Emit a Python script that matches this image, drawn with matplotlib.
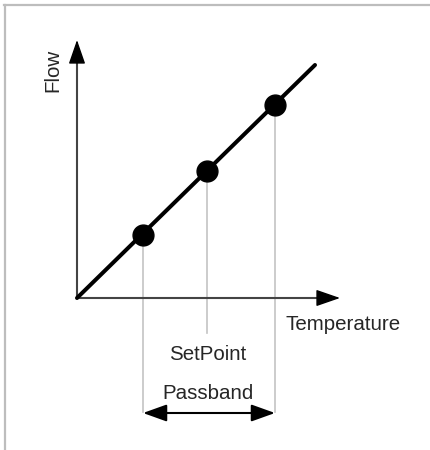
import matplotlib
matplotlib.use("Agg")
import matplotlib.pyplot as plt
from matplotlib.lines import Line2D

plt.rcParams['font.family'] = ['Liberation Sans', 'DejaVu Sans']

# Data (conceptual units, origin at the axes corner)
point_names = ["Low", "SetPoint", "High"]
temperature = [66, 130, 198]
flow = [63, 127, 193]
line_temperature = [0, 238]
line_flow = [0, 233]
x_axis_end = 263
y_axis_end = 258
label_flow = "Flow"
label_temperature = "Temperature"
label_setpoint = "SetPoint"
label_passband = "Passband"

W, H = 430, 450
fig = plt.figure(figsize=(W / 100, H / 100), dpi=100)
ax = fig.add_axes([0, 0, 1, 1])
ax.set_xlim(-77, W - 77)
ax.set_ylim(298 - H, 298)
ax.axis('off')

# frame lines of the picture
fig.add_artist(Line2D([4 / W, 1], [1 - 5 / H, 1 - 5 / H], color='#bdbdbd', lw=1.6))
fig.add_artist(Line2D([5 / W, 5 / W], [0, 1 - 5 / H], color='#bdbdbd', lw=1.6))

axis_col = '#444444'
head = 21
arrow_style = '-|>,head_length=1.5,head_width=0.52'
# Axes lines (dark gray) with black arrow heads
ax.plot([0, 0], [0, y_axis_end - head + 2], color=axis_col, lw=1.5, zorder=2)
ax.plot([0, x_axis_end - head + 2], [0, 0], color=axis_col, lw=1.5, zorder=2)
ax.annotate('', xy=(0, y_axis_end), xytext=(0, y_axis_end - head),
            arrowprops=dict(arrowstyle=arrow_style, color='black', lw=1.0,
                            mutation_scale=10, shrinkA=0, shrinkB=0), zorder=2)
ax.annotate('', xy=(x_axis_end, 0), xytext=(x_axis_end - head, 0),
            arrowprops=dict(arrowstyle=arrow_style, color='black', lw=1.0,
                            mutation_scale=10, shrinkA=0, shrinkB=0), zorder=2)

# gray drop lines
drop_ends = [-114, -35, -114]
for t, f, e in zip(temperature, flow, drop_ends):
    ax.plot([t, t], [f, e], color='#c4c4c4', lw=1.2, zorder=1)

# main line
ax.plot(line_temperature, line_flow, color='black', lw=2.9, solid_capstyle='round', zorder=3)
ax.plot(temperature, flow, 'o', color='black', ms=15, zorder=4)

# passband arrow
ax.annotate('', xy=(temperature[2], -115), xytext=(temperature[0], -115),
            arrowprops=dict(arrowstyle='<|-|>,head_length=1.45,head_width=0.52',
                            color='black', lw=1.5, mutation_scale=10,
                            shrinkA=0, shrinkB=0), zorder=2)

txt_col = '#262626'
fs = 14.8
ax.text(-24, 227.5, label_flow, rotation=90, ha='center', va='center',
        fontsize=fs, color=txt_col)
ax.text(266.5, -32, label_temperature, ha='center', va='baseline', fontsize=fs, color=txt_col)
ax.text(131, -62, label_setpoint, ha='center', va='baseline', fontsize=fs, color=txt_col)
ax.text(131, -101, label_passband, ha='center', va='baseline', fontsize=fs, color=txt_col)

fig.savefig('out.png', dpi=100, facecolor='white')
